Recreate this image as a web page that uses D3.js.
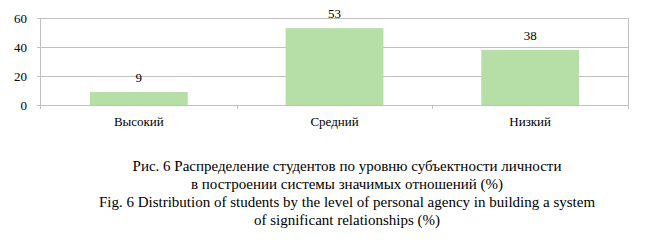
<!DOCTYPE html>
<meta charset="utf-8">
<html>
<head>
<script src="https://d3js.org/d3.v7.min.js"></script>
<style>
  body { margin: 0; background: #fff; }
</style>
</head>
<body>
<div id="chart"></div>
<script>
// Chart data
var categories = ["Высокий", "Средний", "Низкий"];
var values = [9, 53, 38];
var yTicks = [0, 20, 40, 60];
var caption = [
  "Рис. 6 Распределение студентов по уровню субъектности личности",
  "в построении системы значимых отношений (%)",
  "Fig. 6 Distribution of students by the level of personal agency in building a system",
  "of significant relationships (%)"
];

var W = 647, H = 243,
    margin = {top: 18, right: 19, bottom: 138, left: 41},
    width = W - margin.left - margin.right,
    height = H - margin.top - margin.bottom,
    gridColor = "#c0c0c0",
    barColor = "#b6dfa7",
    serif = "Liberation Serif, Tinos, DejaVu Serif, serif";

var svg = d3.select("#chart").append("svg")
  .attr("width", W)
  .attr("height", H);

var g = svg.append("g")
  .attr("transform", "translate(" + margin.left + "," + margin.top + ")");

var x = d3.scaleBand()
  .domain(categories)
  .range([0, width])
  .paddingInner(0.5)
  .paddingOuter(0.25);

var xStep = d3.scaleBand().domain(categories).range([0, width]);

var y = d3.scaleLinear()
  .domain([0, 60])
  .range([height, 0]);

// gridlines
g.selectAll(".grid")
  .data(yTicks.slice(1))
  .enter().append("line")
  .attr("x1", 0).attr("x2", width)
  .attr("y1", function(d) { return y(d) + 0.5; })
  .attr("y2", function(d) { return y(d) + 0.5; })
  .attr("stroke", gridColor);

// right border
g.append("line")
  .attr("x1", width + 0.5).attr("x2", width + 0.5)
  .attr("y1", 0).attr("y2", height + 4)
  .attr("stroke", gridColor);

// y axis
var yAxis = g.append("g")
  .call(d3.axisLeft(y).tickValues(yTicks).tickSize(4).tickPadding(10))
  .style("font-family", serif).style("font-size", "13px");
yAxis.select(".domain").attr("stroke", gridColor).attr("d", "M-0.5," + (height + 4) + "V0.5");
yAxis.selectAll(".tick line").attr("stroke", gridColor);
yAxis.selectAll("text").attr("fill", "#000");

// x axis
var xAxis = g.append("g")
  .attr("transform", "translate(0," + height + ")")
  .call(d3.axisBottom(xStep).tickSize(0).tickPadding(12))
  .style("font-family", serif).style("font-size", "13px");
xAxis.select(".domain").attr("stroke", gridColor).attr("d", "M0,0.5H" + width);
xAxis.selectAll("text").attr("fill", "#000");

// category separators
g.selectAll(".sep")
  .data(categories.slice(1))
  .enter().append("line")
  .attr("x1", function(d) { return Math.round(xStep(d)) + 0.5; })
  .attr("x2", function(d) { return Math.round(xStep(d)) + 0.5; })
  .attr("y1", height).attr("y2", height + 4)
  .attr("stroke", gridColor);

// bars
g.selectAll(".bar")
  .data(values)
  .enter().append("rect")
  .attr("x", function(d, i) { return x(categories[i]); })
  .attr("y", function(d) { return y(d); })
  .attr("width", x.bandwidth())
  .attr("height", function(d) { return height - y(d); })
  .attr("fill", barColor);

// value labels
g.selectAll(".val")
  .data(values)
  .enter().append("text")
  .attr("x", function(d, i) { return x(categories[i]) + x.bandwidth() / 2; })
  .attr("y", function(d) { return y(d) - 10; })
  .attr("text-anchor", "middle")
  .style("font-family", serif)
  .style("font-size", "13px")
  .text(function(d) { return d; });

// caption
svg.selectAll(".cap")
  .data(caption)
  .enter().append("text")
  .attr("x", 347)
  .attr("y", function(d, i) { return 171 + i * 18; })
  .attr("text-anchor", "middle")
  .style("font-family", serif)
  .style("font-size", "15px")
  .text(function(d) { return d; });
</script>
</body>
</html>
